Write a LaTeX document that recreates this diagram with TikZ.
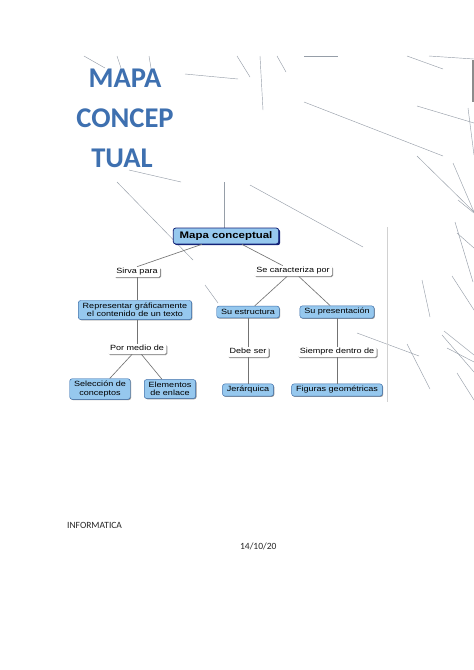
\documentclass[tikz,border=0pt]{standalone}
\usepackage{fontspec}
\newfontfamily\mapfont[FakeStretch=1.2]{Liberation Sans}
\newfontfamily\wordfont{Carlito}
\usetikzlibrary{shadows}
\definecolor{titleblue}{RGB}{62,112,176}
\definecolor{boxfill}{RGB}{150,200,238}
\definecolor{boxedge}{RGB}{60,110,170}
\definecolor{navyedge}{RGB}{20,35,120}
\definecolor{scratchgray}{RGB}{150,158,168}
\tikzset{
  concept/.style={
    rounded corners=3pt,
    draw=boxedge,
    fill=boxfill,
    line width=0.6pt,
    align=center,
    inner xsep=5.5pt,
    inner ysep=3.2pt,
    minimum height=15pt,
    font=\mapfont\fontsize{9.5}{10.5}\selectfont,
    drop shadow={shadow xshift=1pt, shadow yshift=-1pt, fill=black!60, opacity=0.7}
  },
  maintopic/.style={
    concept,
    draw=navyedge,
    line width=1pt,
    inner xsep=8pt,
    minimum height=20pt,
    font=\mapfont\bfseries\fontsize{12}{14}\selectfont,
    drop shadow={shadow xshift=1.8pt, shadow yshift=-1.6pt, fill=navyedge, opacity=1}
  },
  linker/.style={
    rounded corners=2pt,
    fill=white,
    inner xsep=3pt,
    inner ysep=2pt,
    text height=7pt,
    text depth=2pt,
    font=\mapfont\fontsize{9.5}{10.5}\selectfont,
    drop shadow={shadow xshift=1.3pt, shadow yshift=-1.3pt, fill=black!55, opacity=0.8}
  },
  link/.style={
    draw=black!55,
    line width=0.8pt
  },
  scratch/.style={
    draw=scratchgray,
    line width=0.55pt
  },
  bigtitle/.style={
    text=titleblue,
    inner sep=0pt,
    font=\wordfont\bfseries\fontsize{36}{40}\selectfont
  },
  plain/.style={
    text=black!85,
    inner sep=0pt,
    font=\wordfont\fontsize{12}{14}\selectfont
  }
}

\begin{document}
\begin{tikzpicture}[x=0.0443cm, y=-0.0443cm]
    \fill[white] (0,0) rectangle (474,670);
    \path[use as bounding box] (0,0) rectangle (474,670);

    % loose strokes behind the page
    \draw[scratch] (84,56) -- (105,68);
    \draw[scratch] (117,56) -- (121,68);
    \draw[scratch] (149,56) -- (151,68);
    \draw[scratch] (185,74) -- (238,79);
    \draw[scratch] (237,56) -- (250,77);
    \draw[scratch] (260,56) -- (263,110);
    \draw[scratch] (277,56) -- (286,72);
    \draw[scratch] (304,56) -- (338,56);
    \draw[scratch] (407,56) -- (443,69);
    \draw[scratch] (429,56) -- (474,59);
    \draw[scratch] (304,102) -- (443,156);
    \draw[scratch] (417,106) -- (474,123);
    \draw[scratch] (468,108) -- (474,155);
    \draw[scratch] (417,156) -- (474,212);
    \draw[scratch] (453,163) -- (474,212);
    \draw[scratch] (129,170) -- (181,182);
    \draw[scratch] (117,182) -- (193,260);
    \draw[scratch] (224,182) -- (224,228);
    \draw[scratch] (250,185) -- (363,247);
    \draw[scratch] (458,200) -- (474,213);
    \draw[scratch] (455,222) -- (473,282);
    \draw[scratch] (457,233) -- (474,248);
    \draw[scratch] (452,276) -- (474,310);
    \draw[scratch] (422,280) -- (430,317);
    \draw[scratch] (205,285) -- (218,303);
    \draw[scratch] (357,333) -- (419,356);
    \draw[scratch] (407,344) -- (430,389);
    \draw[scratch] (444,331) -- (474,355);
    \draw[scratch] (442,335) -- (474,372);
    \draw[scratch] (447,348) -- (474,362);
    \draw[scratch] (457,373) -- (474,400);
    \draw[black!18, line width=0.8pt] (387.5,227) -- (387.5,402);
    \fill[black!45] (471.5,60) rectangle (474,102);

    % title
    \node[bigtitle] (tA) at (125,78) {MAPA};
    \node[bigtitle] (tB) at (125,118) {CONCEP};
    \node[bigtitle] (tC) at (122,158) {TUAL};

    % map
    \node[maintopic] (mapa) at (226,236) {Mapa conceptual};
    \node[linker] (sirva) at (137,272) {Sirva para};
    \node[linker] (carac) at (293,271) {Se caracteriza por};
    \node[concept] (repr) at (135,310) {Representar gráficamente\\el contenido de un texto};
    \node[concept] (estr) at (248,312) {Su estructura};
    \node[concept] (pres) at (337,312) {Su presentación};
    \node[linker] (medio) at (137,349) {Por medio de};
    \node[linker] (debe) at (248,352) {Debe ser};
    \node[linker] (siempre) at (337,352) {Siempre dentro de};
    \node[concept] (selec) at (100,389) {Selección de\\conceptos};
    \node[concept] (elem) at (170,389) {Elementos\\de enlace};
    \node[concept] (jerar) at (248,390) {Jerárquica};
    \node[concept] (figs) at (337,390) {Figuras geométricas};

    \draw[link] (mapa) -- (sirva.north);
    \draw[link] (mapa) -- (carac);
    \draw[link] (sirva) -- (sirva |- repr.north);
    \draw[link] (sirva |- repr.south) -- (medio);
    \draw[link] (medio) -- (selec);
    \draw[link] (medio) -- (elem);
    \draw[link] (carac) -- (estr);
    \draw[link] (carac) -- (pres);
    \draw[link] (estr) -- (debe);
    \draw[link] (debe) -- (jerar);
    \draw[link] (pres) -- (siempre);
    \draw[link] (siempre) -- (figs);

    % footer
    \node[plain, anchor=west] (curso) at (67,525) {INFORMATICA};
    \node[plain, anchor=west] (fecha) at (240,546) {14/10/20};
\end{tikzpicture}
\end{document}
